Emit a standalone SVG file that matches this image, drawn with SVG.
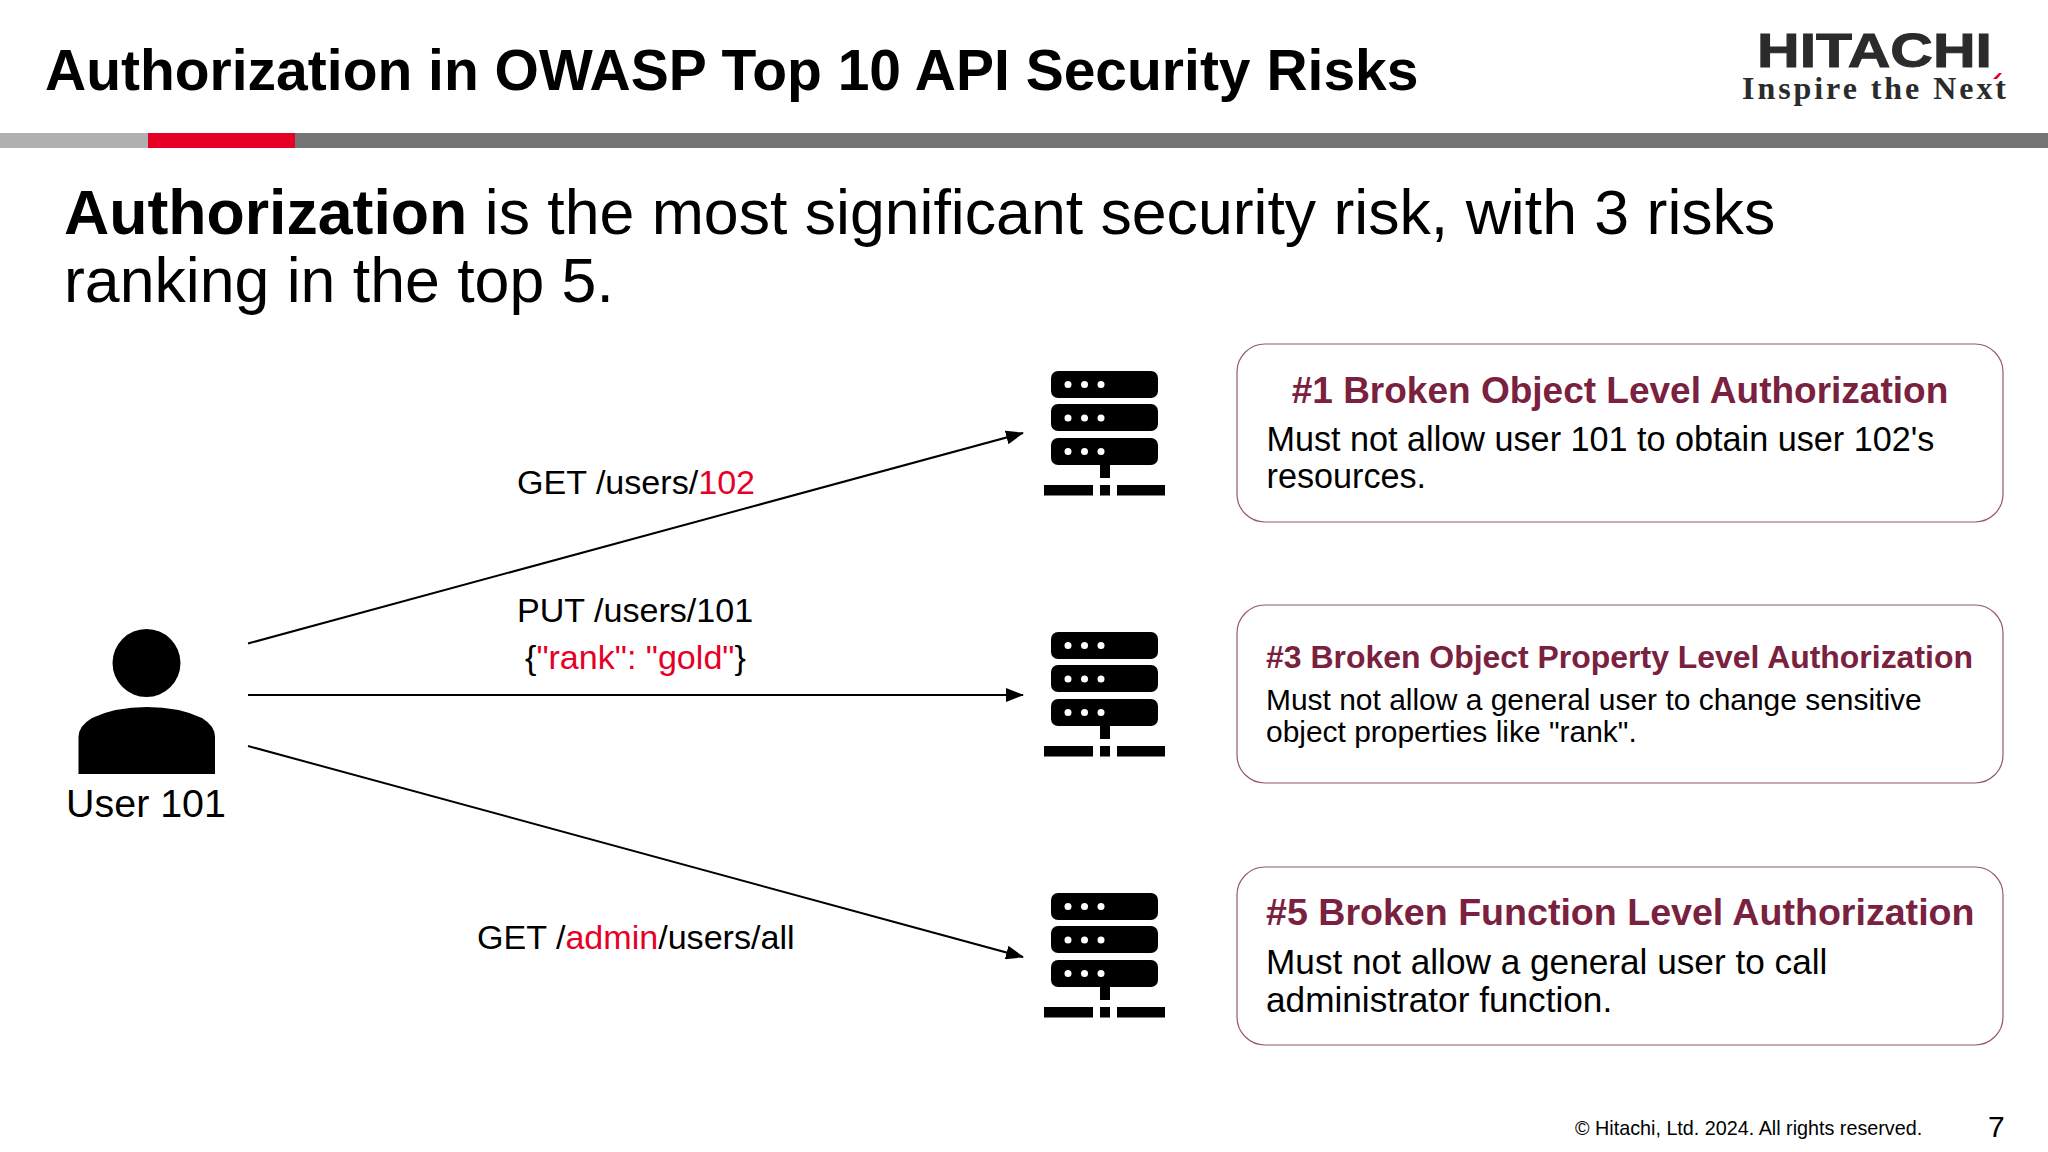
<svg xmlns="http://www.w3.org/2000/svg" width="2048" height="1152" viewBox="0 0 2048 1152">
<style>
text{font-family:"Liberation Sans",Arial,sans-serif;fill:#000}
.red{fill:#e60027}
.h{font-weight:bold;fill:#7a2140}
.box{fill:#fff;stroke:#94586f;stroke-width:1.2}
.c{stroke:#000;stroke-width:2;fill:none;marker-end:url(#a)}
.lbl{font-size:34.100px}
</style>
<defs>
<marker id="a" markerUnits="userSpaceOnUse" markerWidth="18" markerHeight="14" refX="17" refY="7" orient="auto"><path d="M0 0L18 7L0 14Z" fill="#000"/></marker>
<g id="srv">
<rect x="1051" y="371" width="107" height="27" rx="7"/><rect x="1051" y="404" width="107" height="27" rx="7"/><rect x="1051" y="438" width="107" height="27" rx="7"/>
<rect x="1100" y="465" width="10" height="13"/><rect x="1044" y="485" width="49" height="10.5"/><rect x="1100" y="485" width="10" height="10.5"/><rect x="1117" y="485" width="48" height="10.5"/>
<g fill="#fff"><circle cx="1068" cy="384.500" r="3.500"/><circle cx="1084.500" cy="384.500" r="3.500"/><circle cx="1101" cy="384.500" r="3.500"/><circle cx="1068" cy="418" r="3.500"/><circle cx="1084.500" cy="418" r="3.500"/><circle cx="1101" cy="418" r="3.500"/><circle cx="1068" cy="451.500" r="3.500"/><circle cx="1084.500" cy="451.500" r="3.500"/><circle cx="1101" cy="451.500" r="3.500"/></g>
</g>
</defs>
<rect width="2048" height="1152" fill="#fff"/>
<g id="header">
<text x="45" y="90" font-size="57" font-weight="bold">Authorization in OWASP Top 10 API Security Risks</text>
<rect x="0" y="133" width="148" height="15" fill="#b0b0b0"/><rect x="148" y="133" width="147" height="15" fill="#e60027"/><rect x="295" y="133" width="1753" height="15" fill="#757575"/>
</g>
<g id="logo">
<text x="1757" y="67" font-size="48.500" font-weight="bold" textLength="235" lengthAdjust="spacingAndGlyphs" style="fill:#2b2b2b;stroke:#2b2b2b;stroke-width:1">HITACHI</text>
<text x="1742" y="99" font-size="32" font-weight="bold" textLength="264" lengthAdjust="spacing" style="font-family:'Liberation Serif',serif;fill:#2b2b2b">Inspire the Next</text>
<path d="M1993 79L1999 73L2002 73L1997 79Z" fill="#e60027"/>
</g>
<g id="headline">
<text x="64" y="234" font-size="62.600"><tspan font-weight="bold">Authorization</tspan> is the most significant security risk, with 3 risks</text>
<text x="64" y="302" font-size="62.600">ranking in the top 5.</text>
</g>
<g id="connectors">
<line class="c" x1="248" y1="643.500" x2="1023" y2="433"/>
<line class="c" x1="248" y1="695" x2="1023" y2="695"/>
<line class="c" x1="248" y1="746" x2="1023" y2="957"/>
</g>
<g id="labels">
<text class="lbl" x="517" y="494">GET /users/<tspan class="red">102</tspan></text>
<text class="lbl" x="517" y="622">PUT /users/101</text>
<text class="lbl" x="525" y="669">{<tspan class="red">"rank": "gold"</tspan>}</text>
<text class="lbl" x="477" y="949">GET /<tspan class="red">admin</tspan>/users/all</text>
</g>
<g id="user">
<circle cx="146.500" cy="663" r="34"/>
<path d="M78.500 774V737Q78.500 726 92 718Q115 707 147 707Q179 707 202 718Q215 726 215 737V774Z"/>
<text x="146" y="817" font-size="39.400" text-anchor="middle">User 101</text>
</g>
<g id="server1"><use href="#srv"/></g>
<g id="server2"><use href="#srv" y="261"/></g>
<g id="server3"><use href="#srv" y="522"/></g>
<g id="risk1">
<rect class="box" x="1237" y="344" width="766" height="178" rx="28"/>
<text class="h" x="1620" y="403" font-size="37" text-anchor="middle" style="fill:#7a2140">#1 Broken Object Level Authorization</text>
<text x="1266.500" y="451" font-size="34.200">Must not allow user 101 to obtain user 102's</text>
<text x="1266.500" y="488" font-size="34.200">resources.</text>
</g>
<g id="risk3">
<rect class="box" x="1237" y="605" width="766" height="178" rx="28"/>
<text class="h" x="1266" y="668" font-size="31.950" style="fill:#7a2140">#3 Broken Object Property Level Authorization</text>
<text x="1266" y="710" font-size="29.950">Must not allow a general user to change sensitive</text>
<text x="1266" y="742" font-size="29.950">object properties like "rank".</text>
</g>
<g id="risk5">
<rect class="box" x="1237" y="867" width="766" height="178" rx="28"/>
<text class="h" x="1266" y="925" font-size="37.600" style="fill:#7a2140">#5 Broken Function Level Authorization</text>
<text x="1266" y="974" font-size="35.200">Must not allow a general user to call</text>
<text x="1266" y="1012" font-size="35.200">administrator function.</text>
</g>
<g id="footer">
<text x="1575" y="1135" font-size="19.750">© Hitachi, Ltd. 2024. All rights reserved.</text>
<text x="1988" y="1137" font-size="30">7</text>
</g>
</svg>
